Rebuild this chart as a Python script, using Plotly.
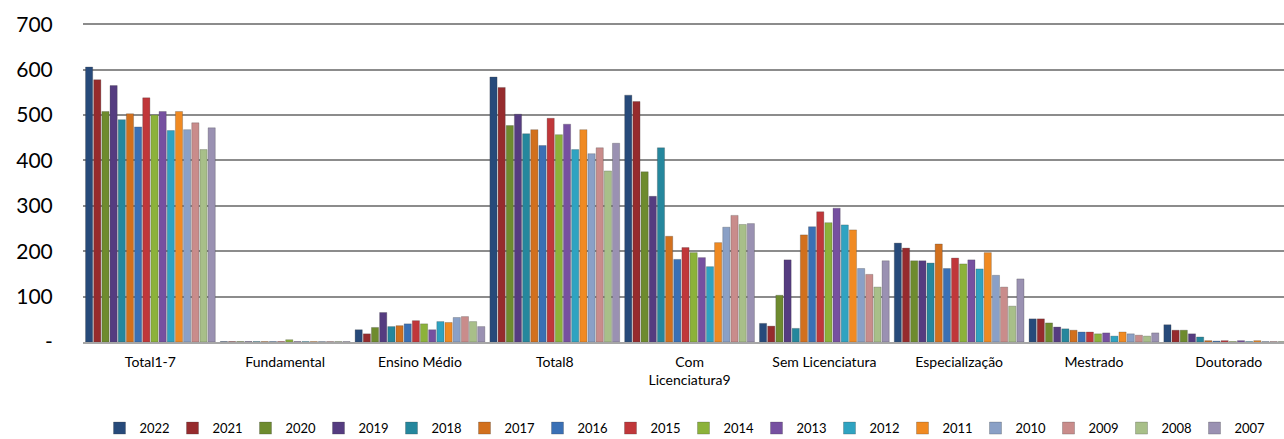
import plotly.graph_objects as go

categories = ["Total1-7", "Fundamental", "Ensino Médio", "Total8", "Com<br>Licenciatura9",
              "Sem Licenciatura", "Especialização", "Mestrado", "Doutorado"]
years = ["2022", "2021", "2020", "2019", "2018", "2017", "2016", "2015",
         "2014", "2013", "2012", "2011", "2010", "2009", "2008", "2007"]

# values per year, in category order
v2022 = [606, 1, 27, 584, 544, 41, 218, 51, 38]
v2021 = [578, 1, 18, 561, 530, 35, 207, 51, 26]
v2020 = [508, 1, 32, 477, 375, 103, 179, 42, 26]
v2019 = [565, 1, 65, 502, 321, 181, 179, 33, 18]
v2018 = [490, 1, 34, 459, 428, 30, 174, 29, 11]
v2017 = [503, 1, 36, 468, 233, 236, 216, 26, 3]
v2016 = [474, 1, 40, 433, 182, 254, 162, 22, 2]
v2015 = [538, 1, 47, 493, 208, 287, 185, 22, 3]
v2014 = [500, 5, 40, 457, 197, 263, 172, 18, 1]
v2013 = [508, 1, 27, 480, 186, 295, 181, 20, 3]
v2012 = [466, 1, 45, 424, 166, 258, 161, 13, 1]
v2011 = [508, 1, 43, 468, 219, 247, 197, 22, 3]
v2010 = [468, 1, 54, 415, 253, 162, 147, 18, 1]
v2009 = [483, 1, 56, 428, 279, 149, 121, 15, 1]
v2008 = [424, 1, 45, 377, 259, 121, 79, 13, 1]
v2007 = [472, 1, 34, 438, 261, 179, 139, 20, 1]

series = [v2022, v2021, v2020, v2019, v2018, v2017, v2016, v2015,
          v2014, v2013, v2012, v2011, v2010, v2009, v2008, v2007]

colors = ["#274A7A", "#962B2D", "#6E8B2E", "#553C80", "#25879D", "#D2701D",
          "#3A70B5", "#C0373A", "#8CB23A", "#7650A0", "#2FA3C1", "#F08A22",
          "#8AA0C6", "#C98C8B", "#A8BF89", "#9A91B2"]

fig = go.Figure()
for y, vals, c in zip(years, series, colors):
    fig.add_trace(go.Bar(
        name=y, x=categories, y=vals,
        marker=dict(color=c, line=dict(color="rgba(60,60,60,0.45)", width=0.6)),
    ))

fig.update_layout(
    width=1284, height=439,
    barmode="group", bargap=0.03, bargroupgap=0.12,
    plot_bgcolor="white", paper_bgcolor="white",
    margin=dict(l=83, r=0, t=23, b=97, autoexpand=False),
    font=dict(family="Lato, Open Sans, sans-serif", color="#000000"),
    showlegend=True,
    legend=dict(orientation="h", x=0.5, xanchor="center", y=-0.27, yanchor="middle",
                font=dict(size=13), itemwidth=30, traceorder="normal",
                entrywidth=28, tracegroupgap=0),
)
fig.update_xaxes(
    range=[-0.5, 8.41], showgrid=False, showline=True, linecolor="#A6A6A6", linewidth=2,
    ticks="outside", ticklen=6, tickcolor="rgba(0,0,0,0)", tickfont=dict(size=14),
    tickangle=0, automargin=False,
)
fig.update_yaxes(
    range=[0, 703], tickmode="array", tickvals=[0, 100, 200, 300, 400, 500, 600, 700],
    ticktext=["-", "100", "200", "300", "400", "500", "600", "700"],
    showgrid=True, gridcolor="#8C8C8C", gridwidth=2, zeroline=False,
    showline=False, tickfont=dict(size=21), ticks="outside", ticklen=25,
    tickcolor="rgba(0,0,0,0)", automargin=False,
)

fig.write_html("out.html", config={"displayModeBar": False},
               post_script="document.body.style.margin='0';")
